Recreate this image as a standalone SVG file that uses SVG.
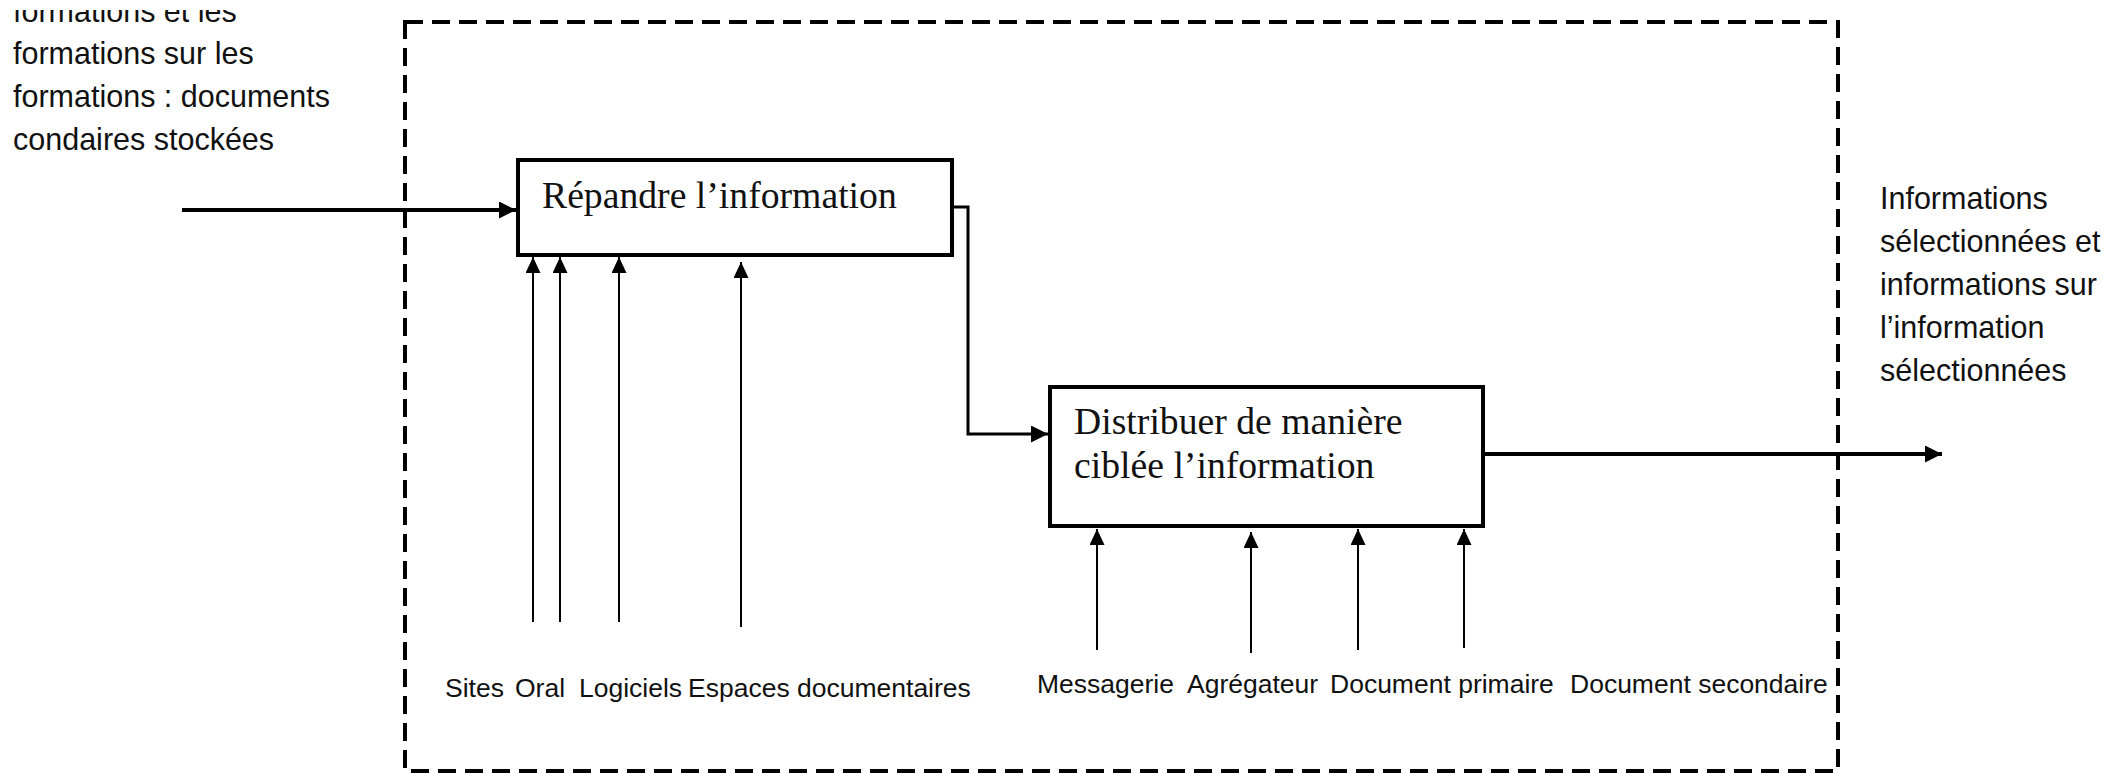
<svg xmlns="http://www.w3.org/2000/svg" width="2104" height="774" viewBox="0 0 2104 774">
<style>
.side{font-family:"Liberation Sans",Arial,sans-serif;font-size:30.5px;fill:#111}
.lbl{font-family:"Liberation Sans",Arial,sans-serif;font-size:26.5px;fill:#111}
.proc{font-family:"Liberation Serif","Times New Roman",serif;font-size:37.7px;fill:#111}
.box{fill:#fff;stroke:#000;stroke-width:4}
.thick{fill:none;stroke:#000;stroke-width:4}
.mid{fill:none;stroke:#000;stroke-width:3}
.thin{fill:none;stroke:#000;stroke-width:2}
</style>
<defs>
<marker id="ahBig" markerUnits="userSpaceOnUse" viewBox="0 0 17 17" markerWidth="17" markerHeight="17" refX="17" refY="8.5" orient="auto"><path d="M0,0 L17,8.5 L0,17 z" fill="#000"/></marker>
<marker id="ahSmall" markerUnits="userSpaceOnUse" viewBox="0 0 16 15" markerWidth="16" markerHeight="15" refX="16" refY="7.5" orient="auto"><path d="M0,0 L16,7.5 L0,15 z" fill="#000"/></marker>
<clipPath id="clipTop"><rect x="0" y="10" width="400" height="40"/></clipPath>
</defs>
<rect width="2104" height="774" fill="#fff"/>
<g id="boundary">
<rect x="405" y="22" width="1433" height="749" fill="none" stroke="#000" stroke-width="4" stroke-dasharray="18 9"/>
</g>
<g id="input-text">
<text class="side" x="13" y="22" clip-path="url(#clipTop)">formations  et les</text>
<text class="side" x="13" y="64">formations sur les</text>
<text class="side" x="13" y="107">formations : documents</text>
<text class="side" x="13" y="150">condaires stockées</text>
</g>
<g id="output-text">
<text class="side" x="1880" y="209">Informations</text>
<text class="side" x="1880" y="252">sélectionnées et</text>
<text class="side" x="1880" y="295">informations sur</text>
<text class="side" x="1880" y="338">l’information</text>
<text class="side" x="1880" y="381">sélectionnées</text>
</g>
<g id="node-repandre">
<rect class="box" x="518" y="160" width="434" height="95"/>
<text class="proc" x="542" y="208">Répandre l’information</text>
</g>
<g id="node-distribuer">
<rect class="box" x="1050" y="387" width="433" height="139"/>
<text class="proc" x="1074" y="434">Distribuer de manière</text>
<text class="proc" x="1074" y="478">ciblée l’information</text>
</g>
<g id="connectors">
<line class="thick" x1="182" y1="210" x2="516" y2="210" marker-end="url(#ahBig)"/>
<polyline class="mid" points="952,207 968,207 968,434 1048,434" marker-end="url(#ahBig)"/>
<line class="thick" x1="1483" y1="454" x2="1942" y2="454" marker-end="url(#ahBig)"/>
<line class="thin" x1="533" y1="622" x2="533" y2="257" marker-end="url(#ahSmall)"/>
<line class="thin" x1="560" y1="622" x2="560" y2="257" marker-end="url(#ahSmall)"/>
<line class="thin" x1="619" y1="622" x2="619" y2="257" marker-end="url(#ahSmall)"/>
<line class="thin" x1="741" y1="627" x2="741" y2="262" marker-end="url(#ahSmall)"/>
<line class="thin" x1="1097" y1="650" x2="1097" y2="529" marker-end="url(#ahSmall)"/>
<line class="thin" x1="1251" y1="653" x2="1251" y2="532" marker-end="url(#ahSmall)"/>
<line class="thin" x1="1358" y1="650" x2="1358" y2="529" marker-end="url(#ahSmall)"/>
<line class="thin" x1="1464" y1="648" x2="1464" y2="529" marker-end="url(#ahSmall)"/>
</g>
<g id="labels">
<text class="lbl" x="445" y="697">Sites</text>
<text class="lbl" x="515" y="697">Oral</text>
<text class="lbl" x="579" y="697">Logiciels</text>
<text class="lbl" x="688" y="697">Espaces documentaires</text>
<text class="lbl" x="1037" y="693">Messagerie</text>
<text class="lbl" x="1187" y="693">Agrégateur</text>
<text class="lbl" x="1330" y="693">Document primaire</text>
<text class="lbl" x="1570" y="693">Document secondaire</text>
</g>
</svg>
